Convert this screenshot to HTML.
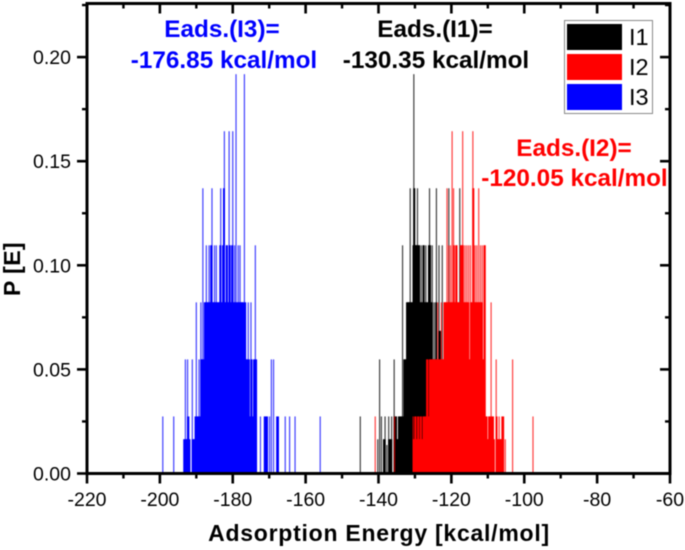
<!DOCTYPE html>
<html>
<head>
<meta charset="utf-8">
<style>
html,body{margin:0;padding:0;background:#fff;width:685px;height:550px;overflow:hidden}
svg{display:block;filter:blur(0.4px)}
text{font-family:"Liberation Sans",Arial,sans-serif}
</style>
</head>
<body>
<svg id="chart" width="685" height="550" viewBox="0 0 685 550" xmlns="http://www.w3.org/2000/svg">
  <g id="bars"></g>
  <g id="axes"></g>
  <rect x="87" y="3.5" width="583" height="470" fill="none" stroke="#000" stroke-width="3"/>
  <text transform="translate(20,269) rotate(-90)" text-anchor="middle" font-size="23" font-weight="bold" letter-spacing="0.4">P [E]</text>
  <text x="379" y="541" text-anchor="middle" font-size="23" font-weight="bold" letter-spacing="0.75">Adsorption Energy [kcal/mol]</text>
  <text x="222" y="37" text-anchor="middle" font-size="24.3" font-weight="bold" fill="#0000ff">Eads.(I3)=</text>
  <text x="224" y="68" text-anchor="middle" font-size="24.3" font-weight="bold" fill="#0000ff">-176.85 kcal/mol</text>
  <text x="435" y="37" text-anchor="middle" font-size="24.3" font-weight="bold" fill="#000">Eads.(I1)=</text>
  <text x="436" y="68" text-anchor="middle" font-size="24.3" font-weight="bold" fill="#000">-130.35 kcal/mol</text>
  <text x="574" y="156" text-anchor="middle" font-size="24.3" font-weight="bold" fill="#ff0000">Eads.(I2)=</text>
  <text x="574.5" y="186" text-anchor="middle" font-size="24.3" font-weight="bold" fill="#ff0000">-120.05 kcal/mol</text>
  <g>
    <rect x="564.5" y="20.5" width="88" height="93" fill="#fff" stroke="#8a8a8a" stroke-width="1"/>
    <rect x="567" y="24" width="55" height="26" fill="#000"/>
    <rect x="567" y="54" width="55" height="26" fill="#ff0000"/>
    <rect x="567" y="84" width="55" height="26" fill="#0000ff"/>
    <text x="629" y="45" font-size="23.5">I1</text>
    <text x="629" y="75" font-size="23.5">I2</text>
    <text x="629" y="105" font-size="23.5">I3</text>
  </g>
</svg>
<script>
const xTickValues = [-220,-200,-180,-160,-140,-120,-100,-80,-60];
const xTickLabels = ["-220","-200","-180","-160","-140","-120","-100","-80","-60"];
const yTickValues = [0,0.05,0.10,0.15,0.20];
const yTickLabels = ["0.00","0.05","0.10","0.15","0.20"];
const probPerHit = 0.0274;

const i1Energy = [-145,-140.2,-139.7,-139.2,-138.6,-138.2,-137.7,-137.2,-136.8,-136.4,-135.7,-135.4,-135.1,-134.8,-134.5,-134.2,-133.9,-133.6,-133.4,-133.2,-133,-132.75,-132.5,-132.25,-132,-131.75,-131.5,-131.3,-131,-130.75,-130.5,-130.3,-130.1,-129.9,-129.75,-129.5,-129.3,-129,-128.75,-128.5,-128.25,-128,-127.75,-127.5,-127.25,-127,-126.75,-126.5,-126.25,-126,-125.75,-125.5,-125.25,-125,-124.75,-124.5,-124.25,-124.1,-123.75,-123.4,-123,-122.5,-121.5,-120.7,-119,-117.7];
const i1Hits = [1,0.6,2,1,0.6,1,0.5,1,0.6,1,2,1,1,0.6,1,1,1,1,4,1,2,2,2,3,3,3,3,5,3,3,4,7,5,4,4,4,5,4,4,3,4,3,4,4,3,4,3,3,4,5,4,3,4,2,3,2,3,5,2,4,2.5,4,2,5,2,5];

const i2Energy = [-140.9,-135.6,-130.5,-130.25,-130,-129.75,-129.5,-129.25,-129,-128.75,-128.5,-128.25,-128,-127.75,-127.5,-127.25,-127,-126.75,-126.5,-126.25,-126,-125.75,-125.5,-125.25,-125,-124.75,-124.5,-124.25,-124,-123.75,-123.5,-123.25,-123,-122.75,-122.5,-122.25,-122,-121.75,-121.5,-121.2,-121,-120.75,-120.5,-120.25,-120,-119.8,-119.6,-119.4,-119.25,-119,-118.75,-118.5,-118.25,-118,-117.75,-117.5,-117.25,-116.9,-116.75,-116.5,-116.25,-116,-115.75,-115.5,-115.25,-115,-114.75,-114.5,-114.1,-113.9,-113.75,-113.5,-113.25,-113,-112.75,-112.5,-112.25,-112,-111.75,-111.5,-111.25,-111,-110.75,-110.5,-110.25,-110,-109.75,-109.5,-109.1,-108.75,-108.5,-108.25,-107.7,-107.5,-107.25,-106.9,-106.5,-106.1,-105.7,-105.2,-103.2,-97.6];
const i2Hits = [1,1,1,0.6,1,1,0.6,1,1,0.6,1,1,0.6,1,1,1,1,2,2,1,2,2,2,2,2,2,2,2,2,3,2,2,2,3,2,2,3,3,3,5,3,4,3,4,3,6,3,5,4,3,4,4,3,3,3,4,4,6,4,3,4,3,4,3,4,2,4,3,6,5,3,4,3,4,3,5,3,4,3,4,2,4,4,1,1,0.6,1,1,3,1,1,0.6,2,1,0.6,1,0.6,1,1,0.6,2,1];

const i3Energy = [-199.2,-196.2,-193.4,-193,-192.7,-192.4,-192.1,-191.8,-191.1,-190.7,-190.3,-190,-189.75,-189.5,-189.25,-189,-188.75,-188.5,-188.2,-188,-187.75,-187.5,-187.25,-187,-186.75,-186.5,-186.25,-186,-185.7,-185.5,-185.25,-185,-184.75,-184.5,-184.25,-184,-183.75,-183.5,-183.3,-183,-182.75,-182.5,-182.3,-182,-181.75,-181.5,-181.25,-181,-180.75,-180.5,-180.25,-180,-179.75,-179.5,-179.25,-179.1,-178.75,-178.5,-178.25,-178,-177.75,-177.5,-177.25,-176.8,-176.5,-176.25,-176,-175.75,-175.5,-175.25,-175,-174.75,-174.5,-174.25,-173.8,-173.5,-172.4,-171.3,-170.9,-170.5,-169.9,-169.4,-168.8,-167.9,-167.5,-165.6,-164.4,-162.9,-156];
const i3Hits = [1,1,0.6,2,0.6,2,1,0.6,2,0.6,1,3,1,1,2,1,3,2,5,2,3,3,4,3,3,4,3,4,5,3,3,4,3,4,3,3,3,4,5,3,4,5,6,3,4,4,3,6,4,3,4,6,3,4,3,7,3,4,3,4,3,3,3,7,3,2,2,3,2,1,3,2,1,2,4,2,1,1,1,1,1,2,2,1,1,1,1,1,1];

const NS = "http://www.w3.org/2000/svg";
const plotLeft = 87, plotRight = 670, plotBottom = 473.5, plotTop = 3.5;
const xScale = e => plotLeft + (e + 220) * (plotRight - plotLeft) / 160;
const yScale = p => plotBottom - p * 2082;

function drawSeries(energy, hits, color, seriesName) {
  const group = document.getElementById("bars");
  energy.forEach((e, i) => {
    const bar = document.createElementNS(NS, "rect");
    const top = yScale(hits[i] * probPerHit);
    bar.setAttribute("x", xScale(e) - 0.6);
    bar.setAttribute("y", top);
    bar.setAttribute("width", 1.2);
    bar.setAttribute("height", plotBottom - top);
    bar.setAttribute("fill", color);
    bar.setAttribute("fill-opacity", "0.75");
    
    
    group.appendChild(bar);
    const nextEnergy = energy[i + 1];
    if (nextEnergy !== undefined && nextEnergy - e < 0.5) {
      const solid = document.createElementNS(NS, "rect");
      const solidTop = yScale(Math.min(hits[i], hits[i + 1]) * probPerHit);
      solid.setAttribute("x", xScale(e) - 0.6);
      solid.setAttribute("y", solidTop);
      solid.setAttribute("width", xScale(nextEnergy) - xScale(e) + 1.2);
      solid.setAttribute("height", plotBottom - solidTop);
      solid.setAttribute("fill", color);
      
      
      group.appendChild(solid);
    }
  });
}
drawSeries(i1Energy, i1Hits, "#000000", "i1-bar");
drawSeries(i2Energy, i2Hits, "#ff0000", "i2-bar");
drawSeries(i3Energy, i3Hits, "#0000ff", "i3-bar");

const axes = document.getElementById("axes");
function tick(x1, y1, x2, y2, width, name) {
  const l = document.createElementNS(NS, "line");
  l.setAttribute("x1", x1);
  l.setAttribute("y1", y1);
  l.setAttribute("x2", x2);
  l.setAttribute("y2", y2);
  l.setAttribute("stroke", "#000");
  l.setAttribute("stroke-width", width);
  
  
  axes.appendChild(l);
}
function label(x, y, anchor, content, name) {
  const t = document.createElementNS(NS, "text");
  t.setAttribute("x", x);
  t.setAttribute("y", y);
  t.setAttribute("text-anchor", anchor);
  t.setAttribute("font-size", "19.5");
  t.textContent = content;
  
  
  axes.appendChild(t);
}
xTickValues.forEach((v, i) => {
  const x = xScale(v);
  tick(x, plotBottom, x, plotBottom + 10, 2.6, "x-major-tick");
  tick(x, plotTop, x, plotTop + 10, 2.6, "x-top-tick");
  label(x, 506, "middle", xTickLabels[i], "x-tick-label");
  if (i < xTickValues.length - 1) {
    const mx = xScale(v + 10);
    tick(mx, plotBottom, mx, plotBottom + 5, 2.4, "x-minor-tick");
    tick(mx, plotTop, mx, plotTop + 5, 2.4, "x-top-minor-tick");
  }
});
yTickValues.forEach((v, i) => {
  const y = yScale(v);
  tick(plotLeft - 10, y, plotLeft, y, 2.6, "y-major-tick");
  tick(plotRight - 10, y, plotRight, y, 2.6, "y-right-tick");
  label(71, y + 7, "end", yTickLabels[i], "y-tick-label");
  const my = yScale(v + 0.025);
  tick(plotLeft - 5, my, plotLeft, my, 2.4, "y-minor-tick");
  tick(plotRight - 5, my, plotRight, my, 2.4, "y-right-minor-tick");
});
</script>
</body>
</html>
